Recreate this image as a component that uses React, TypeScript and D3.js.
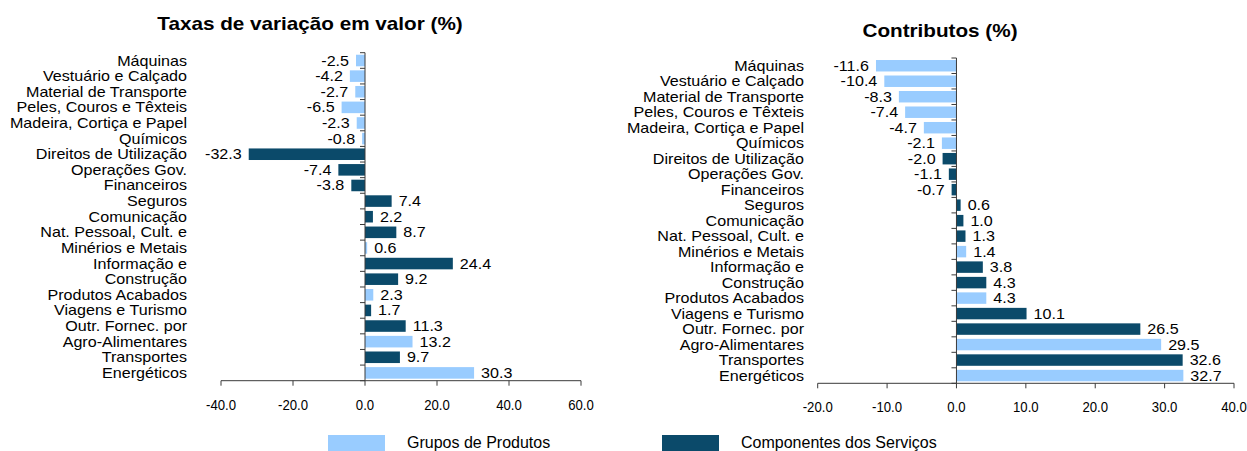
import React from 'react';
import * as d3 from 'd3';

const categories = [
  'Máquinas',
  'Vestuário e Calçado',
  'Material de Transporte',
  'Peles, Couros e Têxteis',
  'Madeira, Cortiça e Papel',
  'Químicos',
  'Direitos de Utilização',
  'Operações Gov.',
  'Financeiros',
  'Seguros',
  'Comunicação',
  'Nat. Pessoal, Cult. e',
  'Minérios e Metais',
  'Informação e',
  'Construção',
  'Produtos Acabados',
  'Viagens e Turismo',
  'Outr. Fornec. por',
  'Agro-Alimentares',
  'Transportes',
  'Energéticos',
];

// P = Grupos de Produtos, S = Componentes dos Serviços
const groups = ['P', 'P', 'P', 'P', 'P', 'P', 'S', 'S', 'S', 'S', 'S', 'S', 'P', 'S', 'S', 'P', 'S', 'S', 'P', 'S', 'P'];

const taxas = [-2.5, -4.2, -2.7, -6.5, -2.3, -0.8, -32.3, -7.4, -3.8, 7.4, 2.2, 8.7, 0.6, 24.4, 9.2, 2.3, 1.7, 11.3, 13.2, 9.7, 30.3];
const contributos = [-11.6, -10.4, -8.3, -7.4, -4.7, -2.1, -2.0, -1.1, -0.7, 0.6, 1.0, 1.3, 1.4, 3.8, 4.3, 4.3, 10.1, 26.5, 29.5, 32.6, 32.7];

const taxasTicks = [-40, -20, 0, 20, 40, 60];
const contribTicks = [-20, -10, 0, 10, 20, 30, 40];

const legendKeys = ['P', 'S'];
const legendLabels = ['Grupos de Produtos', 'Componentes dos Serviços'];

const titles = ['Taxas de variação em valor (%)', 'Contributos (%)'];

const COLORS: Record<string, string> = { P: '#99CCFF', S: '#0B4A6A' };
const FONT = '"Liberation Sans", Arial, Helvetica, sans-serif';
const AXIS = '#3a3a3a';

const locale = d3.formatLocale({ decimal: '.', thousands: ',', grouping: [3], currency: ['', ''], minus: '-' });
const fmt = locale.format('.1f');

function T({ x, y, sx = 1.15, size = 14, anchor = 'start', weight = 'normal', children }: any) {
  return (
    <text
      transform={`translate(${x},${y}) scale(${sx},1)`}
      textAnchor={anchor}
      fontFamily={FONT}
      fontSize={size}
      fontWeight={weight}
      fill="#000"
    >
      {children}
    </text>
  );
}

function Panel({ values, domain, xRange, yTop, yBottom, labelRight, ticks, title, titleX, titleY }: any) {
  const x = d3.scaleLinear().domain(domain).range(xRange);
  const y = d3.scaleBand<string>().domain(categories).range([yTop, yBottom]).paddingInner(0.26).paddingOuter(0.13);
  const band = (yBottom - yTop) / categories.length;
  const x0 = x(0);
  const tickY = yBottom + 29;
  return (
    <g>
      <T x={titleX} y={titleY} size={18} weight="bold" anchor="middle">{title}</T>
      {categories.map((c, i) => {
        const v = values[i];
        const yc = yTop + band * (i + 0.5);
        const bx = Math.min(x(v), x0);
        const bw = Math.abs(x(v) - x0);
        return (
          <g key={c}>
            <T x={labelRight} y={yc + 5} anchor="end">{c}</T>
            <rect x={bx} y={y(c)} width={bw} height={y.bandwidth()} fill={COLORS[groups[i]]} />
            <T x={v < 0 ? x(v) - 7 : x(v) + 7} y={yc + 5} anchor={v < 0 ? 'end' : 'start'}>
              {fmt(v)}
            </T>
          </g>
        );
      })}
      {/* vertical axis */}
      <line x1={x0} x2={x0} y1={yTop} y2={yBottom} stroke={AXIS} strokeWidth={1} />
      {d3.range(categories.length + 1).map((k) => (
        <line key={k} x1={x0 - 5} x2={x0} y1={yTop + band * k} y2={yTop + band * k} stroke={AXIS} strokeWidth={1} />
      ))}
      {/* horizontal axis */}
      <line x1={xRange[0]} x2={xRange[1]} y1={yBottom} y2={yBottom} stroke={AXIS} strokeWidth={1} />
      {ticks.map((t: number) => (
        <g key={t}>
          <line x1={x(t)} x2={x(t)} y1={yBottom} y2={yBottom + 5} stroke={AXIS} strokeWidth={1} />
          <T x={x(t)} y={tickY} anchor="middle" sx={0.94}>{fmt(t)}</T>
        </g>
      ))}
    </g>
  );
}

export default function App() {
  const legendX = [328, 662];
  return (
    <svg
      width={1247}
      height={451}
      style={{ position: 'absolute', left: 0, top: 0, background: '#fff' }}
    >
      <rect x={0} y={0} width={1247} height={451} fill="#fff" />
      <Panel
        values={taxas}
        domain={[-40, 60]}
        xRange={[221, 581]}
        yTop={52.7}
        yBottom={380.7}
        labelRight={187}
        ticks={taxasTicks}
        title={titles[0]}
        titleX={310}
        titleY={30}
      />
      <Panel
        values={contributos}
        domain={[-20, 40]}
        xRange={[817.7, 1234]}
        yTop={58}
        yBottom={383.3}
        labelRight={804}
        ticks={contribTicks}
        title={titles[1]}
        titleX={940}
        titleY={37}
      />
      {legendKeys.map((k, i) => (
        <g key={k}>
          <rect x={legendX[i]} y={435} width={57} height={20} fill={COLORS[k]} />
          <T x={legendX[i] + 79} y={448} size={16} sx={1}>{legendLabels[i]}</T>
        </g>
      ))}
    </svg>
  );
}
